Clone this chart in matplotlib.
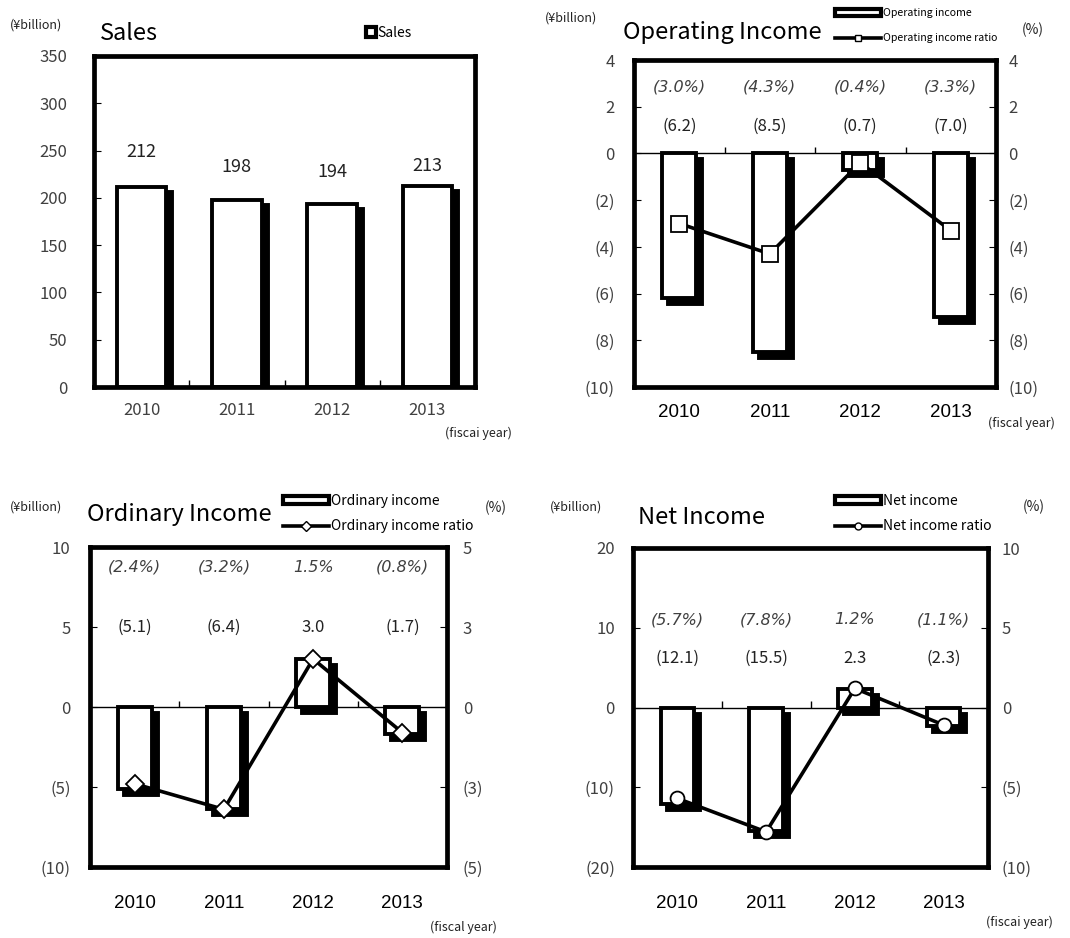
import matplotlib
matplotlib.use("Agg")
import matplotlib.pyplot as plt
import matplotlib.transforms as mtransforms
from matplotlib.patches import Patch
from matplotlib.lines import Line2D
from matplotlib.ticker import FuncFormatter

plt.rcParams["font.family"] = ["Noto Sans CJK JP", "DejaVu Sans"]

# figures in ¥billion, ratios in %
years = ["2010", "2011", "2012", "2013"]
sales = [212, 198, 194, 213]
operating_income = [-6.2, -8.5, -0.7, -7.0]
operating_ratio = [-3.0, -4.3, -0.4, -3.3]
ordinary_income = [-5.1, -6.4, 3.0, -1.7]
ordinary_ratio = [-2.4, -3.2, 1.5, -0.8]
net_income = [-12.1, -15.5, 2.3, -2.3]
net_ratio = [-5.7, -7.8, 1.2, -1.1]

W, H = 1070, 938
GRAY = "#404040"
fig = plt.figure(figsize=(W / 100, H / 100), dpi=100)


def add_axes(left, top, right, bottom):
    return fig.add_axes([left / W, 1 - bottom / H, (right - left) / W, (bottom - top) / H])


def ftext(x, y, s, **kw):
    kw.setdefault("va", "center")
    fig.text(x / W, 1 - y / H, s, **kw)


def paren(v, fmt="{:.1f}"):
    s = fmt.format(abs(v))
    return f"({s})" if v < 0 else s


def tick_fmt(v, _pos=None):
    n = int(abs(v) + 0.5 + 1e-9)
    return f"({n})" if v < -1e-9 else str(n)


def shadow_bars(ax, values, width, dx, dy, lw=2.8):
    x = range(len(values))
    shade = ax.bar(x, values, width, color="black", edgecolor="black", linewidth=lw, zorder=1.5)
    off = mtransforms.ScaledTranslation(dx / 100, -dy / 100, fig.dpi_scale_trans)
    for p in shade:
        p.set_transform(ax.transData + off)
    ax.bar(x, values, width, color="white", edgecolor="black", linewidth=lw, zorder=2)


def frame(ax):
    for sp in ax.spines.values():
        sp.set_linewidth(3.4)
        sp.set_zorder(3)
    ax.set_xlim(-0.5, len(years) - 0.5)


def boundary_ticks(ax, y0, span):
    ax.vlines([0.5, 1.5, 2.5], y0, y0 + span * 0.02, color="black", lw=1, zorder=1)


# ---- Sales ----
ax = add_axes(94, 56, 475, 387)
frame(ax)
shadow_bars(ax, sales, 0.52, 6, 5)
ax.set_ylim(0, 350)
ax.set_yticks(range(0, 351, 50))
ax.set_xticks(range(len(years)), years)
ax.tick_params(axis="y", direction="in", length=5, pad=19, labelsize=12, labelcolor=GRAY)
ax.tick_params(axis="x", length=0, pad=11, labelsize=12, labelcolor=GRAY)
boundary_ticks(ax, 0, 350)
sales_label_y = [248, 233, 227, 234]
for i, v in enumerate(sales):
    ax.text(i, sales_label_y[i], f"{v}", ha="center", va="center", fontsize=13, color="#222222")
ftext(10, 25, "(¥billion)", fontsize=9, color="#222222")
ftext(100, 33, "Sales", fontsize=17)
ftext(445, 433, "(fiscai year)", fontsize=9, color="#222222")
fig.legend([Patch(facecolor="white", edgecolor="black", linewidth=3)], ["Sales"],
           loc="center left", bbox_to_anchor=(366 / W, 1 - 33 / H), frameon=False,
           fontsize=10, handlelength=0.7, handleheight=0.7, handletextpad=0.15,
           borderpad=0, borderaxespad=0)


def income_panel(box, values, ratios, ylim, yticks, rlim, rticks, marker, ms,
                 title, title_xy, legend_labels, legend_xy, legend_size, pct_y, amt_y,
                 ypads, xpad, fiscal_xy, fiscal_text, unit_xy, pct_unit_xy):
    ax = add_axes(*box)
    frame(ax)
    ax.axhline(0, color="black", lw=1, zorder=1)
    shadow_bars(ax, values, 0.38, 6, 6)
    ax.set_ylim(*ylim)
    ax.set_yticks(yticks)
    ax.yaxis.set_major_formatter(FuncFormatter(tick_fmt))
    ax.set_xticks(range(len(years)), years)
    ax.tick_params(axis="y", direction="in", length=5, pad=ypads[0], labelsize=12, labelcolor=GRAY)
    ax.tick_params(axis="x", length=0, pad=xpad, labelsize=13.5, labelcolor="black")
    for lab in ax.get_xticklabels():
        lab.set_family("Liberation Sans")
    boundary_ticks(ax, 0, ylim[1] - ylim[0])

    ax2 = ax.twinx()
    for sp in ax2.spines.values():
        sp.set_visible(False)
    ax2.set_ylim(*rlim)
    ax2.set_yticks(rticks)
    ax2.yaxis.set_major_formatter(FuncFormatter(tick_fmt))
    ax2.tick_params(axis="y", direction="in", length=5, pad=ypads[1], labelsize=12, labelcolor=GRAY)
    ax2.plot(range(len(ratios)), ratios, color="black", lw=2.6, marker=marker, ms=ms,
             mfc="white", mec="black", mew=1.3, zorder=4)

    for i, (v, r) in enumerate(zip(values, ratios)):
        ax.text(i, pct_y, paren(r, "{:.1f}%"), ha="center", va="center", fontsize=11.5,
                style="italic", family="DejaVu Sans", color=GRAY)
        ax.text(i, amt_y, paren(v), ha="center", va="center", fontsize=12, color="#222222")

    ftext(*title_xy, title, fontsize=17)
    ftext(*unit_xy, "(¥billion)", fontsize=9, color="#222222")
    ftext(*pct_unit_xy, "(%)", fontsize=10, color="#222222")
    ftext(*fiscal_xy, fiscal_text, fontsize=9, color="#222222")
    handles = [Patch(facecolor="white", edgecolor="black", linewidth=3),
               Line2D([], [], color="black", lw=2.6, marker=marker, ms=5,
                      mfc="white", mec="black", mew=1)]
    size_px = legend_size * 100 / 72
    fig.legend(handles, legend_labels, loc="upper left",
               bbox_to_anchor=(legend_xy[0] / W, 1 - legend_xy[1] / H), frameon=False,
               fontsize=legend_size, handlelength=46 / size_px, handleheight=7 / size_px,
               handletextpad=0.15, labelspacing=(28 - size_px * 1.2) / size_px,
               borderpad=0, borderaxespad=0)


income_panel((634, 60, 996, 387), operating_income, operating_ratio,
             (-10, 4), range(-10, 5, 2), (-10, 4), range(-10, 5, 2), "s", 12,
             "Operating Income", (623, 32), ["Operating income", "Operating income ratio"],
             (835, 8), 7.6, 2.85, 1.15, (14, 9), 12, (988, 423), "(fiscal year)",
             (545, 18), (1022, 30))

income_panel((90, 547, 447, 867), ordinary_income, ordinary_ratio,
             (-10, 10), range(-10, 11, 5), (-5, 5), [-5, -2.5, 0, 2.5, 5], "D", 9,
             "Ordinary Income", (87, 514), ["Ordinary income", "Ordinary income ratio"],
             (283, 494), 10, 8.75, 5.0, (14, 11.5), 20, (430, 927), "(fiscal year)",
             (10, 507), (485, 508))

income_panel((633, 548, 988, 867), net_income, net_ratio,
             (-20, 20), range(-20, 21, 10), (-10, 10), range(-10, 11, 5), "o", 10,
             "Net Income", (638, 517), ["Net income", "Net income ratio"],
             (835, 494), 10, 11.0, 6.2, (13, 10), 20, (986, 922), "(fiscai year)",
             (550, 507), (1023, 507))

fig.savefig("out.png", dpi=100)
